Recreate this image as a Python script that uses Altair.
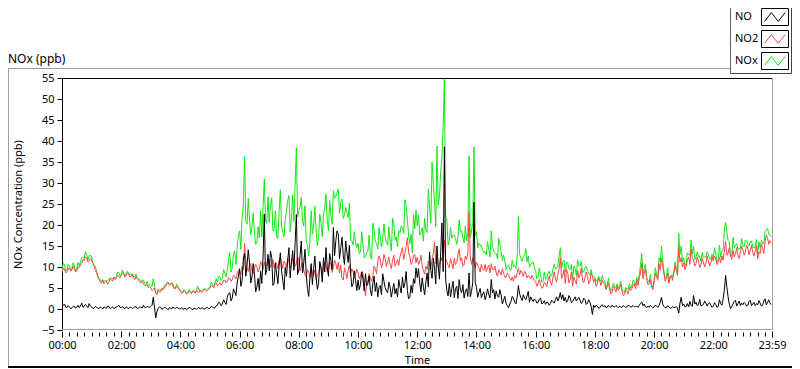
import altair as alt
import pandas as pd

# ---------------- data ----------------
SERIES = ["NO", "NO2", "NOx"]
Y_TICKS = [-5, 0, 5, 10, 15, 20, 25, 30, 35, 40, 45, 50, 55]
LABEL_HOURS = [0, 2, 4, 6, 8, 10, 12, 14, 16, 18, 20, 22]

# readings at hh:00, hh:05, ... hh:55 (one row per hour)
no_vals = [
    0.6, 1.2, 0.3, 0.5, 0.2, 0.7, 0.4, 0.3, 1.4, 0.6, 0.8, 1.3,
    0.5, 0.2, 0.4, 0.1, 0.3, 0.5, 0.2, 0.6, 0.3, 0.1, 0.4, 0.9,
    0.3, 0.2, 0.5, 0.1, 0.4, 0.3, 0.6, 0.2, 0.4, 0.9, 0.3, 0.5,
    0.6, 2.8, -2.1, 0.2, 0.4, 0.1, 0.3, -0.2, 0.2, 0.5, 0.1, 0.3,
    0.1, -0.1, 0.2, 0.0, 0.3, -0.2, 0.1, 0.2, 0.0, 0.3, 0.1, 0.4,
    0.2, 0.5, 0.3, 0.9, 1.4, 1.2, 1.6, 2.8, 3.9, 2.6, 4.1, 6.2,
    9.6, 6.8, 13.2, 10.4, 11.1, 7.6, 8.4, 5.2, 4.4, 6.1, 22.6, 9.4,
    9.1, 12.3, 6.2, 8.4, 10.2, 9.1, 4.6, 7.8, 14.6, 11.2, 9.2, 22.5,
    9.4, 16.2, 11.0, 8.2, 3.0, 10.8, 9.6, 7.6, 6.1, 9.8, 12.2, 14.6,
    7.8, 11.6, 19.4, 16.3, 17.8, 14.6, 12.8, 16.2, 11.1, 8.4, 6.0, 6.8,
    6.9, 5.9, 7.2, 8.4, 6.1, 4.6, 6.0, 4.2, 2.9, 5.6, 8.4, 5.1,
    3.9, 5.2, 4.5, 3.6, 2.9, 5.3, 7.6, 6.1, 4.4, 2.9, 3.8, 6.1,
    7.5, 6.2, 7.4, 3.4, 8.6, 13.6, 7.3, 9.8, 15.0, 7.1, 20.5, 38.6,
    4.4, 6.1, 4.9, 2.7, 5.4, 7.0, 3.9, 2.6, 4.8, 8.6, 4.2, 25.4,
    5.2, 3.9, 2.7, 4.1, 3.2, 3.4, 7.0, 4.6, 4.3, 2.8, 3.3, 2.1,
    1.4, 0.3, 1.8, 2.6, 1.2, 5.6, 2.7, 3.4, 2.2, 4.2, 2.9, 1.8,
    2.1, 1.6, 2.6, 1.4, 1.1, 1.5, 1.3, 1.8, 2.2, 1.9, 3.9, 3.4,
    2.8, 2.0, 2.6, 1.8, 2.9, 2.4, 2.1, 1.7, 2.3, 1.4, 1.6, -1.3,
    0.4, 0.7, 0.3, 1.0, 0.8, 0.4, 0.6, 0.9, 0.5, 0.6, 0.7, 0.4,
    0.6, 0.5, 0.8, 0.6, 0.5, 0.7, 0.9, 1.7, 1.2, 0.3, 0.4, 0.6,
    0.5, 0.7, 0.8, 2.8, 0.6, 0.4, 0.5, 0.2, 0.3, 0.6, -1.0, 2.8,
    1.2, 0.6, 0.5, 0.9, 3.2, 1.6, 1.0, 0.7, 1.1, 1.4, 1.3, 0.9,
    0.7, 1.1, 0.6, 1.3, 2.4, 8.0, 2.9, 0.1, 1.2, 2.1, 1.3, 0.8,
    1.0, 1.3, 0.9, 2.1, 1.2, 0.8, 1.0, 1.4, 0.9, 2.4, 1.6, 1.3,
]

no2_vals = [
    8.6, 9.4, 8.9, 9.8, 9.3, 9.6, 9.1, 9.9, 10.8, 11.6, 12.2, 11.4,
    11.9, 10.2, 8.6, 7.1, 6.2, 6.0, 6.6, 6.4, 7.0, 7.5, 7.3, 7.8,
    8.0, 8.3, 7.9, 8.4, 7.8, 7.4, 7.7, 6.9, 6.2, 6.0, 5.5, 5.1,
    5.0, 4.7, 3.8, 4.5, 4.1, 4.6, 5.3, 6.4, 5.8, 5.4, 4.9, 5.1,
    4.2, 3.9, 4.1, 3.7, 4.0, 4.3, 3.8, 4.2, 4.5, 4.1, 4.6, 4.4,
    5.0, 5.4, 5.9, 5.5, 6.3, 6.0, 6.9, 6.5, 7.3, 7.0, 7.8, 8.4,
    9.0, 10.2, 15.6, 9.8, 10.4, 9.1, 9.6, 10.1, 9.5, 10.6, 11.2, 10.4,
    11.8, 10.6, 9.8, 10.9, 11.6, 10.8, 11.4, 9.9, 11.2, 10.6, 11.7, 10.9,
    11.4, 10.2, 9.2, 7.6, 8.8, 9.9, 7.9, 6.9, 8.4, 10.1, 9.6, 10.4,
    9.8, 10.6, 9.9, 10.8, 11.2, 10.4, 6.9, 8.7, 9.3, 8.1, 8.8, 8.4,
    8.6, 7.9, 8.3, 3.2, 6.8, 7.4, 7.8, 9.6, 11.4, 11.9, 10.8, 12.0,
    11.3, 10.5, 11.6, 10.2, 11.8, 12.4, 14.6, 13.2, 17.0, 12.6, 11.1, 13.0,
    12.3, 11.2, 10.4, 8.3, 9.4, 10.6, 11.8, 16.0, 12.2, 10.6, 11.5, 16.4,
    11.3, 9.8, 10.9, 12.1, 11.0, 14.3, 12.2, 10.6, 11.8, 23.0, 10.6, 11.0,
    11.2, 9.8, 10.7, 9.2, 8.9, 10.4, 10.8, 9.3, 8.6, 9.4, 8.1, 8.5,
    7.5, 8.2, 6.8, 6.6, 7.4, 9.7, 9.2, 7.8, 8.4, 8.0, 7.1, 7.4,
    6.6, 6.1, 5.6, 5.2, 6.0, 6.9, 6.4, 7.6, 7.2, 8.3, 12.2, 8.0,
    6.1, 8.6, 7.0, 5.4, 6.8, 9.2, 8.1, 6.9, 7.5, 7.8, 6.6, 7.7,
    7.2, 6.0, 6.6, 6.9, 5.9, 5.3, 4.6, 3.9, 4.8, 5.4, 5.0, 4.2,
    3.4, 4.2, 5.2, 4.9, 6.0, 6.8, 7.4, 11.0, 8.6, 7.1, 6.0, 5.2,
    6.4, 7.7, 10.8, 12.0, 8.4, 7.3, 6.1, 7.9, 8.6, 9.2, 14.6, 12.2,
    11.0, 10.1, 12.4, 14.3, 11.7, 10.8, 11.4, 10.6, 11.2, 10.9, 11.6, 11.0,
    11.4, 11.9, 11.2, 11.0, 11.6, 16.2, 13.4, 12.6, 14.0, 13.1, 12.8, 13.6,
    14.1, 13.6, 14.4, 14.0, 13.5, 13.8, 11.9, 13.2, 14.6, 16.2, 17.0, 16.3,
]

nox_vals = [
    9.2, 10.6, 9.2, 10.3, 9.5, 10.3, 9.5, 10.2, 12.2, 12.2, 13.0, 12.7,
    12.4, 10.4, 9.0, 7.2, 6.5, 6.5, 6.8, 7.0, 7.3, 7.6, 7.7, 8.7,
    8.3, 8.5, 8.4, 8.5, 8.2, 7.7, 8.3, 7.1, 6.6, 6.9, 5.8, 5.6,
    5.6, 7.2, 3.9, 4.7, 4.5, 4.7, 5.6, 6.4, 6.0, 5.9, 5.0, 5.4,
    4.3, 4.0, 4.3, 3.8, 4.3, 4.4, 3.9, 5.4, 4.6, 4.4, 4.8, 4.8,
    5.2, 5.9, 6.2, 6.4, 7.7, 7.2, 8.5, 9.3, 13.4, 9.6, 13.8, 14.6,
    18.6, 21.8, 36.4, 20.2, 21.5, 19.6, 18.0, 15.8, 16.9, 17.2, 31.0, 20.4,
    20.6, 26.5, 18.8, 17.4, 23.4, 19.6, 17.2, 23.2, 27.0, 21.4, 20.8, 38.4,
    23.4, 26.6, 19.8, 16.2, 12.6, 23.4, 19.6, 18.8, 17.2, 20.4, 22.6, 27.4,
    18.6, 22.4, 28.2, 26.8, 28.6, 25.4, 21.6, 24.2, 21.8, 16.4, 15.2, 15.8,
    15.6, 13.6, 15.2, 12.4, 13.8, 12.6, 20.4, 16.2, 14.3, 17.4, 16.8, 17.1,
    15.2, 15.9, 21.6, 16.4, 14.8, 18.2, 19.4, 26.0, 21.4, 15.6, 13.4, 19.1,
    19.8, 17.6, 19.3, 21.6, 18.2, 24.4, 35.0, 25.6, 38.8, 26.8, 36.0, 55.0,
    21.6, 16.4, 16.9, 17.6, 15.4, 21.2, 18.6, 15.8, 16.2, 36.5, 18.6, 38.6,
    18.4, 15.6, 15.2, 13.4, 12.9, 14.2, 18.6, 13.8, 13.2, 16.8, 13.6, 12.8,
    9.4, 10.5, 9.2, 10.1, 9.6, 22.0, 12.1, 12.4, 14.4, 12.6, 10.5, 11.2,
    8.9, 7.6, 8.2, 6.6, 7.1, 8.4, 7.7, 9.4, 9.6, 10.4, 14.6, 11.2,
    8.8, 11.0, 9.4, 7.2, 9.6, 11.6, 10.2, 8.6, 9.8, 9.2, 8.2, 7.9,
    7.6, 6.7, 7.0, 7.9, 6.7, 5.7, 5.2, 4.8, 5.3, 6.0, 5.7, 4.6,
    4.0, 4.7, 6.0, 5.5, 6.5, 7.5, 8.3, 13.2, 9.8, 7.4, 6.4, 5.8,
    6.9, 8.4, 12.2, 15.0, 9.0, 7.7, 6.6, 8.1, 8.9, 9.8, 18.0, 15.0,
    12.2, 10.7, 12.9, 16.4, 14.9, 12.4, 12.4, 11.3, 12.3, 12.3, 12.9, 11.9,
    12.1, 13.0, 11.8, 12.3, 14.0, 20.6, 16.3, 12.7, 17.0, 15.2, 14.1, 14.4,
    15.1, 16.4, 15.3, 16.1, 14.7, 14.6, 12.9, 14.6, 15.5, 18.6, 19.2, 17.6,
]

# readings in between, at hh:02:30, hh:07:30, ... hh:57:30 (one row per hour)
no_mid_vals = [
    0.9, 0.5, 0.8, 0.1, 0.6, 0.2, 0.9, 0.7, 0.4, 1.1, 0.3, 0.7,
    0.1, 0.6, 0.2, 0.5, 0.0, 0.3, 0.7, 0.1, 0.5, 0.3, 0.6, 0.4,
    0.6, 0.1, 0.3, 0.4, 0.1, 0.5, 0.1, 0.5, 0.2, 0.4, 0.6, 0.4,
    0.9, 0.4, -0.6, 0.5, -0.1, 0.4, 0.1, 0.3, 0.0, 0.2, 0.4, 0.0,
    0.3, 0.1, -0.2, 0.4, 0.0, 0.2, -0.1, 0.4, 0.2, -0.1, 0.3, 0.1,
    0.6, 0.2, 0.8, 1.6, 0.8, 2.2, 1.1, 3.6, 1.9, 4.8, 3.2, 7.8,
    5.4, 11.9, 7.8, 14.1, 6.2, 10.8, 4.1, 7.3, 9.0, 12.4, 8.1, 13.0,
    13.8, 5.6, 10.9, 6.0, 13.4, 6.8, 9.9, 11.6, 7.4, 13.9, 15.8, 8.2,
    12.8, 8.6, 14.2, 4.9, 7.4, 5.8, 12.6, 4.7, 11.3, 6.4, 8.8, 10.1,
    13.2, 9.4, 12.7, 18.6, 11.9, 17.1, 10.6, 13.4, 15.2, 5.3, 9.1, 4.4,
    4.6, 8.8, 4.3, 5.5, 7.9, 3.1, 7.8, 6.3, 5.1, 3.4, 6.6, 4.2,
    6.4, 2.8, 6.1, 4.9, 7.0, 3.8, 5.0, 8.9, 2.4, 5.6, 7.2, 9.8,
    9.6, 4.1, 5.2, 6.4, 5.3, 9.2, 12.1, 6.0, 10.2, 13.4, 8.9, 7.2,
    3.1, 2.9, 6.6, 4.8, 2.5, 4.6, 5.8, 4.3, 3.0, 2.9, 6.3, 6.4,
    2.8, 4.9, 3.6, 2.2, 4.8, 2.6, 3.8, 2.4, 3.1, 4.6, 1.2, 3.0,
    0.8, 1.2, 3.0, 1.6, 2.8, 3.6, 2.0, 2.6, 3.1, 1.6, 2.2, 2.4,
    1.4, 2.4, 1.2, 2.0, 1.7, 0.9, 2.1, 1.4, 2.9, 2.6, 2.3, 1.9,
    1.6, 3.2, 1.5, 2.4, 1.9, 2.8, 1.3, 2.6, 1.1, 2.2, 0.6, 0.9,
    0.9, 0.2, 0.8, 0.5, 0.3, 0.9, 0.4, 0.5, 0.8, 0.3, 0.5, 0.8,
    0.4, 0.9, 0.4, 0.8, 0.6, 0.4, 1.3, 0.8, 0.5, 0.7, 0.9, 0.3,
    0.9, 0.4, 1.6, 1.1, 0.3, 0.8, 0.2, 0.6, 0.4, 0.2, 1.4, 0.8,
    0.5, 1.3, 1.8, 0.6, 1.2, 0.8, 2.3, 0.9, 1.9, 0.7, 1.5, 0.4,
    1.5, 0.4, 2.2, 0.9, 4.6, 5.2, 1.1, 0.6, 1.8, 0.7, 1.9, 1.4,
    1.6, 0.7, 1.8, 0.8, 1.6, 1.3, 2.0, 0.7, 1.9, 1.0, 2.2, 1.1,
]

no2_mid_vals = [
    9.8, 8.6, 9.6, 9.0, 10.2, 8.8, 10.0, 10.4, 11.8, 12.4, 11.2, 12.0,
    10.8, 9.4, 7.6, 6.4, 6.8, 6.4, 5.9, 7.2, 6.6, 7.0, 8.0, 7.4,
    8.6, 7.6, 8.6, 7.6, 8.2, 7.0, 7.2, 6.4, 6.6, 5.6, 5.8, 5.4,
    4.4, 5.0, 3.4, 4.0, 4.8, 5.2, 6.0, 5.6, 6.2, 4.8, 5.4, 4.6,
    3.7, 4.4, 3.6, 4.2, 3.7, 4.0, 4.4, 3.9, 4.0, 4.7, 4.2, 4.8,
    5.6, 5.0, 6.2, 5.8, 5.7, 6.8, 6.2, 7.4, 6.6, 8.0, 7.2, 9.2,
    8.2, 9.4, 11.6, 8.9, 10.8, 8.4, 10.6, 8.8, 11.3, 9.4, 10.1, 12.0,
    9.9, 11.8, 11.2, 9.6, 12.2, 9.7, 10.8, 12.0, 9.8, 12.1, 10.2, 12.4,
    9.1, 11.0, 8.2, 9.4, 7.4, 8.6, 9.3, 8.1, 9.6, 8.4, 11.2, 8.9,
    11.2, 8.7, 11.6, 9.4, 8.6, 7.4, 9.8, 7.2, 10.4, 9.6, 7.6, 9.5,
    7.2, 9.0, 6.2, 5.6, 8.4, 6.6, 10.2, 8.4, 12.6, 9.8, 13.0, 10.1,
    12.4, 9.6, 12.8, 11.0, 10.4, 13.6, 11.8, 14.9, 13.4, 10.6, 12.7, 11.0,
    10.6, 12.8, 9.1, 10.2, 11.4, 9.6, 13.2, 10.8, 9.9, 12.4, 13.8, 12.0,
    10.4, 12.0, 9.6, 10.6, 12.8, 11.4, 10.2, 12.6, 13.4, 12.4, 12.2, 9.9,
    10.4, 8.8, 9.6, 10.6, 9.8, 8.6, 9.4, 10.2, 7.8, 8.8, 9.6, 7.6,
    8.6, 7.4, 7.6, 8.0, 8.6, 8.2, 8.6, 9.0, 7.4, 7.6, 8.0, 6.8,
    5.4, 7.0, 4.9, 6.4, 5.3, 7.8, 5.6, 8.8, 6.4, 9.6, 7.2, 9.4,
    9.4, 6.2, 8.8, 7.6, 5.9, 7.4, 9.8, 6.2, 8.8, 6.0, 8.6, 6.4,
    5.4, 7.4, 5.6, 6.2, 4.6, 6.2, 3.6, 5.4, 4.0, 4.4, 5.8, 3.2,
    4.6, 3.6, 4.4, 5.8, 4.8, 5.6, 8.6, 7.2, 9.6, 5.8, 7.0, 4.6,
    8.6, 6.8, 9.2, 10.2, 6.6, 8.6, 7.4, 6.8, 10.4, 8.0, 11.2, 10.0,
    9.4, 11.6, 10.6, 12.2, 10.2, 12.4, 9.8, 12.0, 10.0, 12.6, 10.2, 12.4,
    12.6, 10.6, 12.4, 12.6, 13.8, 12.8, 14.6, 11.8, 12.4, 14.6, 12.0, 15.0,
    12.8, 15.2, 12.9, 15.1, 12.6, 14.9, 13.6, 15.4, 13.2, 17.6, 15.4, 15.8,
]

nox_mid_vals = [
    10.8, 9.2, 10.6, 9.2, 11.0, 9.1, 11.1, 11.2, 12.4, 13.6, 11.6, 12.8,
    11.0, 10.2, 7.9, 7.0, 7.0, 6.8, 6.8, 7.4, 7.2, 7.4, 8.7, 7.9,
    9.3, 7.8, 9.0, 8.1, 8.4, 7.6, 7.4, 7.0, 6.9, 6.1, 6.5, 5.9,
    5.4, 5.6, 3.6, 4.6, 4.9, 5.7, 6.2, 6.0, 6.3, 5.1, 5.9, 4.8,
    4.1, 4.6, 3.7, 4.7, 3.9, 4.3, 4.5, 4.4, 4.3, 4.8, 4.6, 5.0,
    6.4, 5.4, 7.2, 7.8, 6.8, 9.4, 7.6, 11.6, 8.8, 13.2, 10.6, 17.4,
    14.2, 24.6, 20.8, 26.4, 17.6, 22.8, 15.4, 19.6, 23.4, 24.2, 21.0, 26.8,
    24.8, 18.6, 23.4, 16.8, 28.4, 18.2, 21.6, 25.8, 18.4, 27.2, 29.6, 22.0,
    24.2, 21.0, 24.6, 15.2, 16.4, 17.8, 24.4, 15.0, 22.6, 17.2, 23.8, 21.4,
    25.8, 20.2, 26.4, 27.6, 22.8, 26.2, 22.4, 23.0, 25.2, 16.2, 18.4, 14.6,
    13.2, 18.4, 12.2, 13.4, 17.6, 11.8, 18.8, 15.6, 19.4, 14.8, 20.2, 15.8,
    19.6, 13.8, 20.2, 17.2, 18.6, 19.8, 18.0, 24.6, 17.4, 17.8, 22.4, 23.6,
    22.4, 18.2, 16.2, 18.8, 28.6, 20.4, 30.2, 19.6, 24.8, 32.6, 43.2, 21.8,
    15.2, 19.4, 17.6, 16.8, 17.2, 18.4, 17.0, 19.8, 18.2, 17.0, 20.6, 17.4,
    14.6, 15.2, 14.0, 13.6, 16.0, 12.4, 14.8, 13.2, 12.0, 15.4, 11.6, 11.4,
    10.2, 9.4, 11.6, 10.4, 12.6, 13.0, 11.4, 12.8, 11.2, 10.0, 11.0, 9.8,
    7.2, 9.8, 6.4, 8.8, 7.4, 9.0, 8.0, 10.6, 9.6, 12.6, 9.8, 11.6,
    11.2, 9.6, 10.6, 10.2, 8.0, 10.4, 11.4, 9.0, 10.2, 8.4, 9.4, 7.6,
    6.6, 7.8, 6.6, 7.0, 5.0, 7.4, 4.2, 6.2, 5.0, 4.9, 6.6, 4.2,
    5.2, 4.8, 5.0, 6.9, 5.6, 6.3, 10.4, 8.4, 10.6, 6.8, 8.2, 5.1,
    9.8, 7.4, 11.2, 11.6, 7.1, 9.8, 7.8, 7.6, 11.2, 8.4, 13.0, 11.2,
    10.2, 13.4, 12.8, 13.2, 11.8, 13.6, 12.6, 13.4, 12.4, 13.6, 12.0, 13.0,
    14.6, 11.2, 15.2, 13.8, 18.8, 18.4, 16.0, 12.6, 14.6, 15.6, 14.4, 16.8,
    14.8, 16.2, 15.0, 16.2, 14.6, 16.6, 16.0, 16.4, 15.6, 18.8, 17.8, 17.2,
]

base = pd.Timestamp("2024-01-01 00:00:00")
main_times = [base + pd.Timedelta(minutes=5 * i) for i in range(288)]
mid_times = [base + pd.Timedelta(minutes=5 * i + 2.5) for i in range(288)]

frames = []
for name, vals, mids in zip(SERIES, [no_vals, no2_vals, nox_vals],
                            [no_mid_vals, no2_mid_vals, nox_mid_vals]):
    frames.append(pd.DataFrame({"time": main_times, "value": vals, "series": name}))
    frames.append(pd.DataFrame({"time": mid_times, "value": mids, "series": name}))
df = pd.concat(frames, ignore_index=True).sort_values(["series", "time"])

# ---------------- styling ----------------
COLORS = {"NO": "#000000", "NO2": "#FF4646", "NOx": "#12EA12"}
FONT = "Noto Sans"
FS = 11
W, H = 710, 252


def dt(h, m):
    return alt.DateTime(year=2024, month=1, date=1, hours=h, minutes=m)


x_scale = alt.Scale(domain=[dt(0, 0), dt(23, 59)])
y_scale = alt.Scale(domain=[-5, 55], nice=False, zero=False)

major_vals = [dt(h, 0) for h in LABEL_HOURS] + [dt(23, 59)]
minor_vals = [dt(m // 60, m % 60) for m in range(0, 1440, 15)]

x_axis = alt.Axis(
    values=major_vals, format="%H:%M", labelFont=FONT, labelFontSize=FS,
    labelColor="#000000", tickColor="#000000", tickSize=6, offset=1,
    domain=False, grid=False, labelPadding=2, labelFlush=False,
    labelOverlap=False, orient="bottom",
    title="Time", titleFont=FONT, titleFontSize=FS, titleFontWeight="normal",
    titleColor="#000000", titleY=29, titleX=W / 2, titleBaseline="middle",
    titleAlign="center",
)
minor_axis = alt.Axis(
    values=minor_vals, labels=False, tickSize=4, offset=2, domain=False,
    grid=False, tickColor="#000000", orient="bottom",
)
y_axis = alt.Axis(
    values=Y_TICKS, labelFont=FONT, labelFontSize=FS, labelColor="#000000",
    tickColor="#000000", tickSize=5, domainColor="#000000", grid=False,
    labelPadding=3,
    title="NOx Concentration (ppb)", titleFont=FONT, titleFontSize=FS,
    titleFontWeight="normal", titleColor="#000000", titleX=-44, titleY=H / 2,
    titleAngle=270, titleAlign="center", titleBaseline="middle",
)


def line_layer(name, with_axes):
    return (
        alt.Chart(df)
        .transform_filter(alt.datum.series == name)
        .mark_line(color=COLORS[name], strokeWidth=1, clip=True)
        .encode(
            x=alt.X("time:T", scale=x_scale, axis=x_axis if with_axes else None),
            y=alt.Y("value:Q", scale=y_scale, axis=y_axis),
        )
    )


minor_layer = (
    alt.Chart(df)
    .transform_filter(alt.datum.series == "NO")
    .mark_line(opacity=0)
    .encode(
        x=alt.X("time:T", scale=x_scale, axis=minor_axis, title=None),
        y=alt.Y("value:Q", scale=y_scale, axis=y_axis),
    )
)

dummy = pd.DataFrame({"k": [0]})


def hrule(x1, x2, y, color, w=1):
    return alt.Chart(dummy).mark_rule(color=color, strokeWidth=w).encode(
        x=alt.value(x1), x2=alt.value(x2), y=alt.value(y))


def vrule(x, y1, y2, color, w=1):
    return alt.Chart(dummy).mark_rule(color=color, strokeWidth=w).encode(
        x=alt.value(x), y=alt.value(y1), y2=alt.value(y2))


LX0 = 668.5   # legend box left (plot coords)
LX1 = 729.5   # legend box right
decor = [
    hrule(0, W, 0.5, "#000000"),            # plot top border
    vrule(W + 0.5, 0, H, "#A0A0A0"),        # plot right border
    hrule(0, W, H - 0.5, "#A0A0A0"),        # plot bottom border
    hrule(-54, LX0, -9.5, "#A0A0A0"),       # panel top frame
    vrule(-53.5, -10, 289, "#A0A0A0"),      # panel left frame
    hrule(-54, LX1 + 0.5, 289, "#000000", 2),  # panel bottom frame
    vrule(LX0, -70, -4.5, "#606060"),       # legend box left
    hrule(LX0, LX1, -4.5, "#404040"),       # legend box bottom
    vrule(LX1, -70, -4.5, "#404040"),       # legend box right
]

title_text = alt.Chart(dummy).mark_text(
    align="left", baseline="middle", font=FONT, fontSize=FS + 1, color="#000000"
).encode(x=alt.value(-54), y=alt.value(-19), text=alt.value("NOx (ppb)"))

ZIGZAG = "M-0.9,0.38L-0.32,-0.38L0.28,0.38L0.88,-0.38"
legend_layers = []
row_centers = [-61, -39, -17]
for name, cy in zip(SERIES, row_centers):
    legend_layers.append(
        alt.Chart(dummy).mark_text(
            align="left", baseline="middle", font=FONT, fontSize=FS,
            color="#000000"
        ).encode(x=alt.value(673), y=alt.value(cy), text=alt.value(name))
    )
    legend_layers.append(
        alt.Chart(dummy).mark_rect(
            fill="#FFFFFF", stroke="#000000", strokeWidth=1
        ).encode(x=alt.value(699.5), x2=alt.value(726.5),
                 y=alt.value(cy - 8.5), y2=alt.value(cy + 8.5))
    )
    legend_layers.append(
        alt.Chart(dummy).mark_point(
            shape=ZIGZAG, filled=False, stroke=COLORS[name], strokeWidth=1,
            size=529, opacity=1
        ).encode(x=alt.value(713), y=alt.value(cy))
    )

chart = (
    alt.layer(
        line_layer("NOx", True),
        line_layer("NO2", False),
        line_layer("NO", False),
        minor_layer,
        *decor,
        title_text,
        *legend_layers,
    )
    .resolve_axis(x="independent")
    .properties(
        width=W, height=H,
        padding={"left": 54, "top": 70, "right": 20, "bottom": 39},
        autosize=alt.AutoSizeParams(type="none"),
        background="#FFFFFF",
    )
    .configure_view(stroke=None)
)

chart.save("out.html", embed_options={"renderer": "svg", "actions": False})
